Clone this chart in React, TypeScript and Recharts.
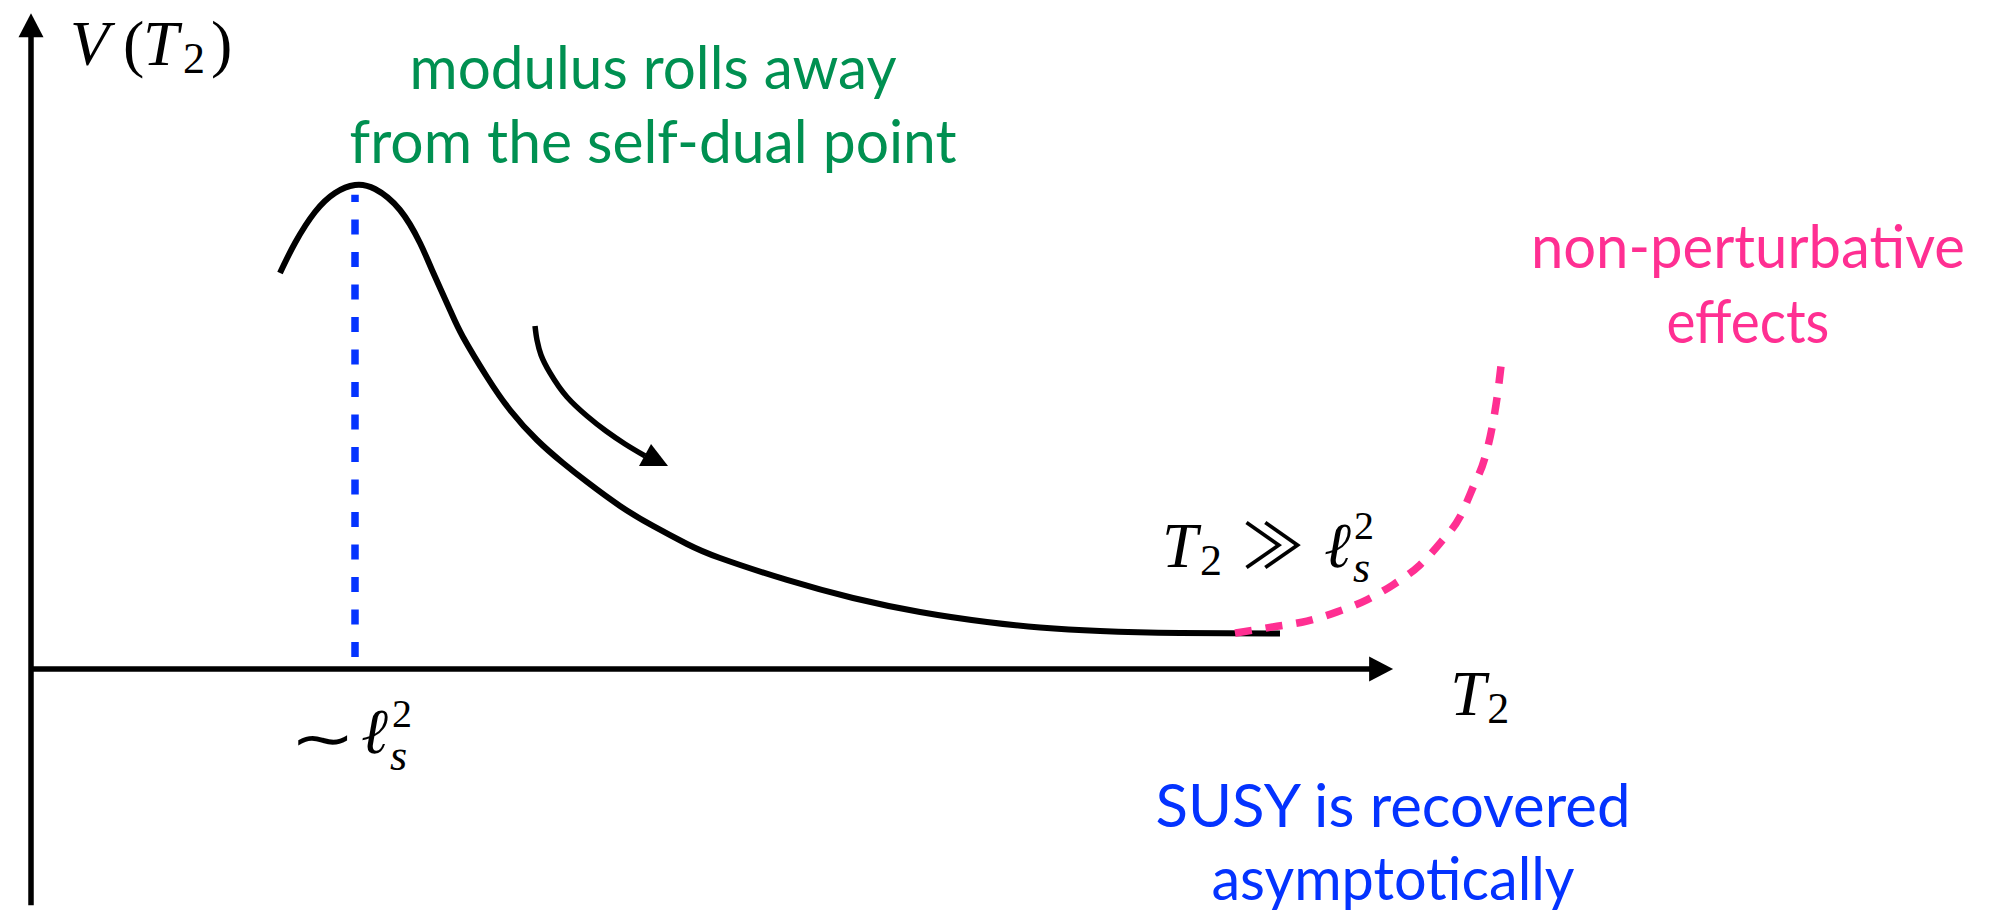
import React from 'react';
import { LineChart, Line, XAxis, YAxis, ReferenceLine, ReferenceDot } from 'recharts';

// T2 in units of l_s^2 (self-dual point at 1), V normalised to the peak.
const potentialT = [0.7685, 0.8148, 0.8765, 0.9383, 1.0, 1.0617, 1.1389, 1.2006, 1.2377, 1.2932, 1.3333, 1.4074, 1.4784, 1.5617, 1.642, 1.716, 1.8179, 1.9198, 2.0247, 2.1265, 2.3333, 2.537, 2.7438, 2.9506, 3.1142, 3.2994, 3.5463, 3.8549];
const potentialV = [0.8182, 0.8802, 0.9442, 0.9835, 1.0, 0.9917, 0.9483, 0.8802, 0.8244, 0.7417, 0.686, 0.6033, 0.5351, 0.4731, 0.4256, 0.3864, 0.3368, 0.2955, 0.2583, 0.2293, 0.1839, 0.1467, 0.1178, 0.0971, 0.0857, 0.0785, 0.0744, 0.0733];

const nonPertT = [3.716, 3.833, 3.938, 4.031, 4.123, 4.204, 4.287, 4.349, 4.41, 4.451, 4.488, 4.512, 4.528, 4.537];
const nonPertV = [0.074, 0.087, 0.099, 0.118, 0.143, 0.174, 0.215, 0.26, 0.314, 0.376, 0.438, 0.508, 0.576, 0.626];

const rollT = [1.5556, 1.5617, 1.5741, 1.6019, 1.6543, 1.716, 1.7747, 1.8333, 1.8951];
const rollV = [0.7087, 0.6798, 0.6488, 0.6116, 0.562, 0.5227, 0.4917, 0.4649, 0.4401];

const selfDualT = [1.0, 1.0];
const selfDualV = [0.025, 0.98];

const axisT = [0, 4.204];
const axisV = [-0.488, 1.355];

const greenText = ['modulus rolls away', 'from the self-dual point'];
const pinkText = ['non-perturbative', 'effects'];
const blueText = ['SUSY is recovered', 'asymptotically'];

const GREEN = '#009051';
const PINK = '#ff2f92';
const BLUE = '#0433ff';
const MATH_FONT = '"Liberation Serif", "DejaVu Serif", serif';
const SANS_FONT = 'Lato, "Open Sans", sans-serif';

const zip = (ts: number[], vs: number[]) => ts.map((t, i) => ({ t, v: vs[i] }));

type Glyph = { s: string; dx: number; dy?: number; size: number; italic?: boolean; font?: string; sx?: number };

// TeX-like formula: every glyph placed relative to the anchor point
function MathLabel({ cx, cy, glyphs }: { cx: number; cy: number; glyphs: Glyph[] }) {
  return (
    <g fill="#000">
      {glyphs.map((g, i) => (
        <text
          key={i}
          transform={`translate(${cx + g.dx},${cy + (g.dy ?? 0)}) scale(${g.sx ?? 1},1)`}
          fontSize={g.size}
          fontStyle={g.italic ? 'italic' : 'normal'}
          fontFamily={g.font ?? MATH_FONT}
        >
          {g.s}
        </text>
      ))}
    </g>
  );
}

function TextBlock({ cx, cy, lines, color, widths, gap }: { cx: number; cy: number; lines: string[]; color: string; widths: number[]; gap: number }) {
  return (
    <g>
      {lines.map((line, i) => (
        <text
          key={line}
          x={cx}
          y={cy + i * gap}
          textAnchor="middle"
          fontFamily={SANS_FONT}
          fontSize={60}
          fill={color}
          textLength={widths[i]}
          lengthAdjust="spacingAndGlyphs"
        >
          {line}
        </text>
      ))}
    </g>
  );
}

function ArrowAxis(props: any) {
  const { x1, y1, x2, y2 } = props;
  const len = Math.hypot(x2 - x1, y2 - y1);
  const ux = (x2 - x1) / len;
  const uy = (y2 - y1) / len;
  const head = 24;
  const half = 12.5;
  const bx = x2 - ux * head;
  const by = y2 - uy * head;
  const pts = `${x2},${y2} ${bx - uy * half},${by + ux * half} ${bx + uy * half},${by - ux * half}`;
  return (
    <g>
      <line x1={x1} y1={y1} x2={bx + ux * 2} y2={by + uy * 2} stroke="#000" strokeWidth={5.5} />
      <polygon points={pts} fill="#000" />
    </g>
  );
}

const rollLast = rollT.length - 1;

function RollHead(props: any) {
  const { cx, cy, index } = props;
  if (index !== rollLast) return <g key={`d${index}`} />;
  return <polygon key="head" points={`${cx + 6},${cy - 12} ${cx - 6},${cy + 10} ${cx + 23},${cy + 10}`} fill="#000" />;
}

export default function App() {
  return (
    <div style={{ position: 'absolute', left: 0, top: 0, background: '#fff' }}>
      <LineChart width={1995} height={914} margin={{ top: 0, right: 0, bottom: 0, left: 0 }}>
        <XAxis type="number" dataKey="t" domain={[-0.0957, 6.0617]} hide allowDataOverflow />
        <YAxis type="number" dataKey="v" domain={[-0.5062, 1.3822]} hide allowDataOverflow />

        <ReferenceLine segment={[{ x: axisT[0], y: axisV[0] }, { x: axisT[0], y: axisV[1] }]} shape={ArrowAxis} ifOverflow="visible" />
        <ReferenceLine segment={[{ x: axisT[0], y: 0 }, { x: axisT[1], y: 0 }]} shape={ArrowAxis} ifOverflow="visible" />

        <Line data={zip(selfDualT, selfDualV)} dataKey="v" type="linear" stroke={BLUE} strokeWidth={7.5} strokeDasharray="15 17.5" dot={false} activeDot={false} isAnimationActive={false} />
        <Line data={zip(potentialT, potentialV)} dataKey="v" type="natural" stroke="#000" strokeWidth={6} dot={false} activeDot={false} isAnimationActive={false} />
        <Line data={zip(nonPertT, nonPertV)} dataKey="v" type="monotone" stroke={PINK} strokeWidth={7.5} strokeDasharray="17 14" dot={false} activeDot={false} isAnimationActive={false} />
        <Line data={zip(rollT, rollV)} dataKey="v" type="monotoneY" stroke="#000" strokeWidth={5.5} dot={RollHead} activeDot={false} isAnimationActive={false} />

        <ReferenceDot
          x={0.12}
          y={1.248}
          r={0}
          ifOverflow="visible"
          shape={(p: any) => (
            <MathLabel
              cx={p.cx}
              cy={p.cy}
              glyphs={[
                { s: 'V', dx: 0, size: 64, italic: true },
                { s: '(', dx: 53, size: 64 },
                { s: 'T', dx: 73, size: 64, italic: true },
                { s: '2', dx: 113, dy: 8, size: 44 },
                { s: ')', dx: 141, size: 64 }
              ]}
            />
          )}
        />
        <ReferenceDot
          x={4.38}
          y={-0.095}
          r={0}
          ifOverflow="visible"
          shape={(p: any) => (
            <MathLabel
              cx={p.cx}
              cy={p.cy}
              glyphs={[
                { s: 'T', dx: 0, size: 64, italic: true },
                { s: '2', dx: 37, dy: 8, size: 44 }
              ]}
            />
          )}
        />
        <ReferenceDot
          x={0.824}
          y={-0.1736}
          r={0}
          ifOverflow="visible"
          shape={(p: any) => (
            <MathLabel
              cx={p.cx}
              cy={p.cy}
              glyphs={[
                { s: '\u223C', dx: -8, dy: 6, size: 60, sx: 1.3, font: '"DejaVu Sans", sans-serif' },
                { s: '\u2113', dx: 63, size: 64, italic: true },
                { s: '2', dx: 94, dy: -26, size: 40 },
                { s: 's', dx: 92, dy: 17, size: 44, italic: true }
              ]}
            />
          )}
        />
        <ReferenceDot
          x={3.491}
          y={0.2107}
          r={0}
          ifOverflow="visible"
          shape={(p: any) => (
            <MathLabel
              cx={p.cx}
              cy={p.cy}
              glyphs={[
                { s: 'T', dx: 0, size: 64, italic: true },
                { s: '2', dx: 38, dy: 8, size: 44 },
                { s: '\u226B', dx: 80, dy: 2, size: 62, font: '"Noto Sans CJK JP", "DejaVu Sans", sans-serif' },
                { s: '\u2113', dx: 162, size: 64, italic: true },
                { s: '2', dx: 192, dy: -28, size: 40 },
                { s: 's', dx: 191, dy: 15, size: 44, italic: true }
              ]}
            />
          )}
        />

        <ReferenceDot x={1.92} y={1.198} r={0} ifOverflow="visible" shape={(p: any) => <TextBlock cx={p.cx} cy={p.cy} lines={greenText} color={GREEN} widths={[487, 607]} gap={74} />} />
        <ReferenceDot x={5.299} y={0.8285} r={0} ifOverflow="visible" shape={(p: any) => <TextBlock cx={p.cx} cy={p.cy} lines={pinkText} color={PINK} widths={[434, 163]} gap={75} />} />
        <ReferenceDot x={4.2037} y={-0.3264} r={0} ifOverflow="visible" shape={(p: any) => <TextBlock cx={p.cx} cy={p.cy} lines={blueText} color={BLUE} widths={[475, 363]} gap={73} />} />
      </LineChart>
    </div>
  );
}
